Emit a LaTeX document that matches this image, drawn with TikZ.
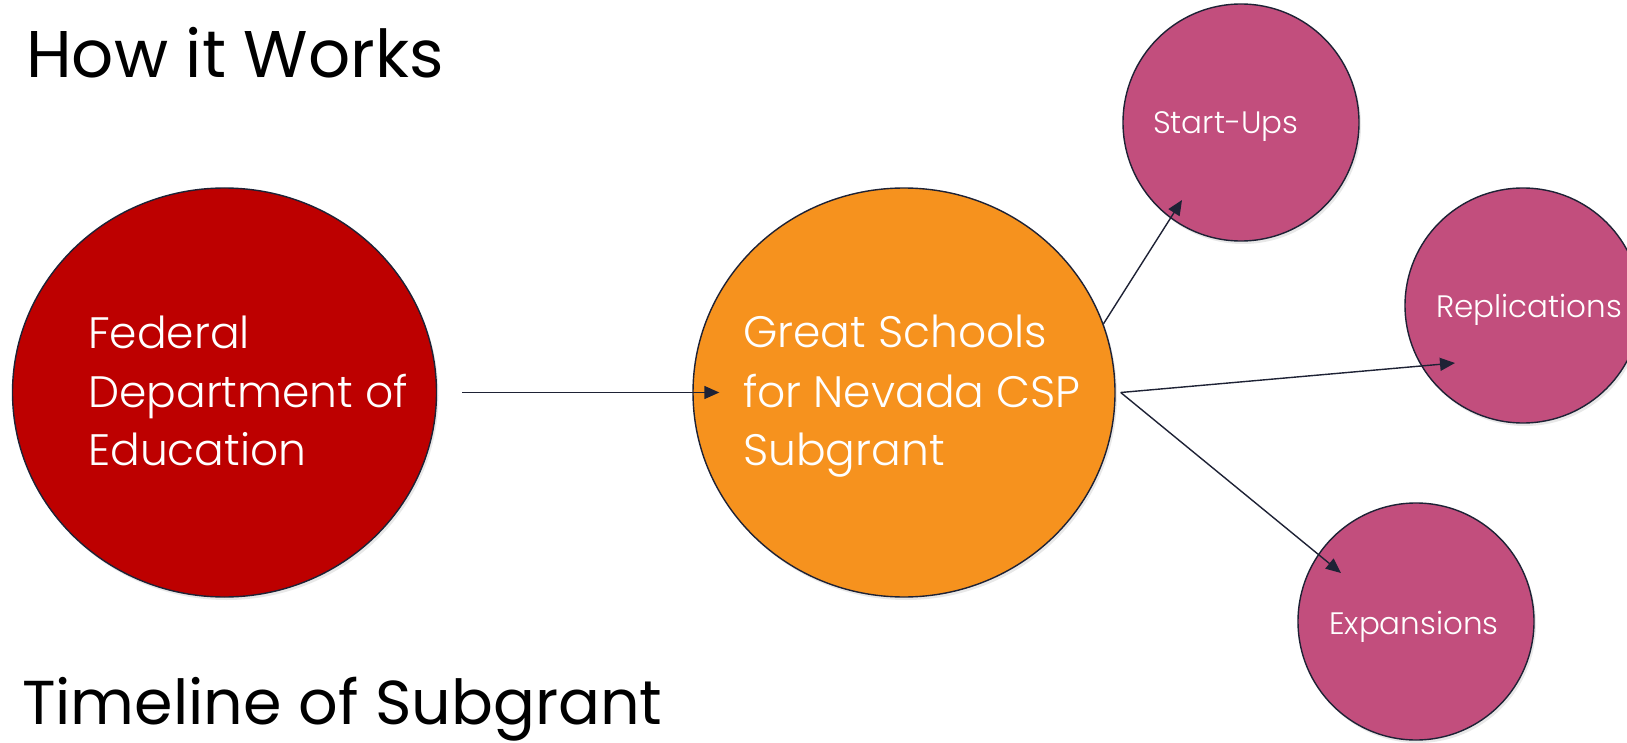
\documentclass[tikz,border=0pt]{standalone}
\usepackage{fontspec}
\setmainfont{Poppins}
\newfontfamily\lightfont{Poppins Light}
\usetikzlibrary{arrows.meta,shapes.geometric,shadows,calc}
\definecolor{fedred}{RGB}{189,0,0}
\definecolor{gsorange}{RGB}{246,146,30}
\definecolor{subpink}{RGB}{194,78,125}
\definecolor{edge}{RGB}{30,34,53}
\tikzset{
  bubble/.style={ellipse, draw=edge, line width=1.4pt, inner sep=0pt,
    drop shadow={opacity=0.18, shadow xshift=2pt, shadow yshift=-3pt}},
  bigtxt/.style={anchor=base west, inner sep=0pt, text=white, font=\lightfont\fontsize{44}{53}\selectfont},
  smalltxt/.style={anchor=base west, inner sep=0pt, text=white, font=\lightfont\fontsize{31}{37}\selectfont},
  ttl/.style={anchor=base west, inner sep=0pt, text=black},
  arr/.style={draw=edge, line width=1.4pt, -{Triangle[length=15pt,width=13pt]}}
}
\begin{document}
\begin{tikzpicture}[x=1pt,y=-1pt]
\path[use as bounding box, fill=white] (0,0) rectangle (1627,743);
% titles
\node[ttl, font=\fontsize{66}{79}\selectfont] (t1) at (26,78) {How it Works};
\node[ttl, font=\fontsize{62}{75}\selectfont] (t2) at (22,724) {Timeline of Subgrant};
% circles
\node[bubble, fill=fedred, minimum width=424pt, minimum height=409pt] (fed) at (224.5,392.5) {};
\node[bubble, fill=gsorange, minimum width=422pt, minimum height=409pt] (gs) at (904,392.5) {};
\node[bubble, fill=subpink, minimum width=236pt, minimum height=237pt] (su) at (1241,122.5) {};
\node[bubble, fill=subpink, minimum width=236pt, minimum height=235pt] (rep) at (1523,305.5) {};
\node[bubble, fill=subpink, minimum width=236pt, minimum height=237pt] (exp) at (1416,621.5) {};
% texts
\node[bigtxt] (fed1) at (88,348) {Federal};
\node[bigtxt] (fed2) at (88,407) {Department of};
\node[bigtxt] (fed3) at (88,465) {Education};
\node[bigtxt] (gs1) at (743,347) {Great Schools};
\node[bigtxt] (gs2) at (743,407) {for Nevada CSP};
\node[bigtxt] (gs3) at (743,465) {Subgrant};
\node[smalltxt] (sut) at (1153,134) {Start-Ups};
\node[smalltxt] (rept) at (1436,317) {Replications};
\node[smalltxt] (expt) at (1329,634) {Expansions};
% connectors
\draw[arr] ($(fed.east)+(25,0)$) -- ($(gs.west)+(27,0)$);
\draw[arr] (gs.19) -- ($(su.center)+(-59,77.5)$);
\draw[arr] ($(gs.east)+(5,0)$) -- ($(rep.center)+(-68,57.5)$);
\draw[arr] ($(gs.east)+(5,0)$) -- ($(exp.center)+(-75,-48.5)$);
\end{tikzpicture}
\end{document}
